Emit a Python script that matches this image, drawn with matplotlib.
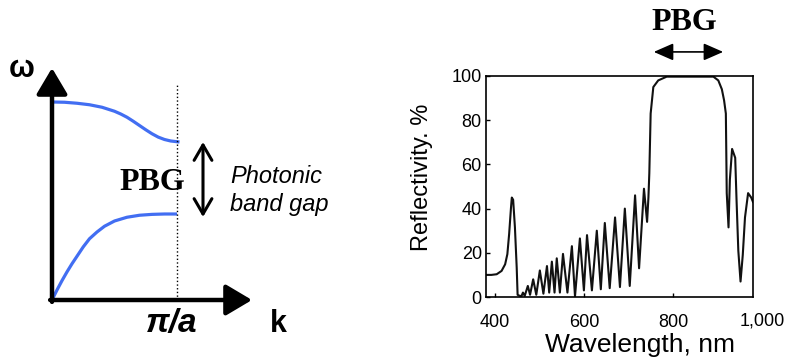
import matplotlib
matplotlib.use('Agg')
import matplotlib.pyplot as plt

plt.rcParams['font.family'] = ['Liberation Sans', 'DejaVu Sans']

# left sketch: dispersion bands, k in units of pi/a
k_upper = [0.0, 0.1, 0.2, 0.3, 0.4, 0.5, 0.55, 0.6, 0.65, 0.7, 0.75, 0.8, 0.85, 0.9, 0.95, 1.02]
w_upper = [1.584, 1.582, 1.574, 1.562, 1.542, 1.51, 1.488, 1.462, 1.43, 1.396, 1.362, 1.33,
           1.303, 1.284, 1.272, 1.264]
k_lower = [0.0, 0.04, 0.08, 0.12, 0.16, 0.2, 0.25, 0.3, 0.36, 0.42, 0.5, 0.6, 0.7, 0.8, 0.9, 1.0]
w_lower = [0.0, 0.08, 0.155, 0.225, 0.29, 0.35, 0.425, 0.49, 0.544, 0.59, 0.632, 0.662, 0.678,
           0.685, 0.688, 0.688]

# right plot: reflectivity spectrum
wavelength = [381, 392, 404, 415, 423, 428, 432, 436, 438, 441, 445, 449, 451, 456, 460,
              463, 467, 474, 479, 486, 493, 501, 509, 517, 522, 528, 534, 539, 546, 553,
              563, 573, 580, 591, 600, 607, 618, 629, 638, 647, 658, 670, 681, 692, 703,
              715, 724, 735, 742, 745, 747, 750, 756, 767, 786, 891, 902, 910, 915, 919,
              921, 925, 928, 933, 940, 943, 947, 952, 957, 962, 969, 976, 980]
reflectivity = [10, 10, 10.3, 11.8, 14.8, 19.4, 28.5, 40, 45, 44, 31.5, 13.3, 1, 0.5, 0.5,
                2, 0.5, 5, 1, 8, 1, 12, 1.5, 14, 2, 16, 2, 17.5, 2, 19.5,
                2, 23, 0.3, 26.5, 3, 28, 3, 30, 3.5, 33.5, 4, 36, 4.5, 40, 5,
                46, 13, 49, 34, 45, 56, 83, 95, 98, 99.7, 99.7, 98, 94, 89, 83,
                47, 31.5, 53, 67, 63, 44, 21, 7, 19, 36, 47, 45, 43]
yticks = [0, 20, 40, 60, 80, 100]
xticks = [400, 600, 800]

fig = plt.figure(figsize=(7.87, 3.63), dpi=100)

# ---- left panel (axis off, units: k and omega)
ax = fig.add_axes([0, 0, 300 / 787, 1])
ax.set_xlim(-0.416, 1.984)
ax.set_ylim(-0.504, 2.4)
ax.set_axis_off()

blue = '#426ef2'
ax.plot(k_upper, w_upper, color=blue, lw=2.3, solid_capstyle='butt')
ax.plot(k_lower, w_lower, color=blue, lw=2.3, solid_capstyle='butt')
ax.plot([1.0, 1.0], [0, 1.72], color='k', lw=1.0, ls=':')

axis_arrow = dict(arrowstyle='-|>,head_length=1.6,head_width=0.95', lw=3.2, color='k',
                  mutation_scale=10, shrinkA=0, shrinkB=0)
ax.annotate('', xy=(0, 1.856), xytext=(0, -0.015), arrowprops=axis_arrow)
ax.annotate('', xy=(1.6, 0), xytext=(-0.015, 0), arrowprops=axis_arrow)
ax.annotate('', xy=(1.208, 1.264), xytext=(1.208, 0.664),
            arrowprops=dict(arrowstyle='<->,head_length=0.55,head_width=0.32', lw=2.2,
                            color='k', mutation_scale=20, shrinkA=0, shrinkB=0))

ax.text(-0.24, 1.85, 'ω', fontsize=22, fontweight='bold', ha='center', va='center')
ax.text(0.8, 0.936, 'PBG', fontsize=23, fontweight='bold', family='Liberation Serif',
        ha='center', va='center')
ax.text(1.424, 0.99, 'Photonic', fontsize=17, style='italic', ha='left', va='center')
ax.text(1.424, 0.76, 'band gap', fontsize=17, style='italic', ha='left', va='center')
ax.text(0.96, -0.19, 'π/a', fontsize=24, fontweight='bold', style='italic',
        ha='center', va='center')
ax.text(1.808, -0.19, 'k', fontsize=22, fontweight='bold', ha='center', va='center')

# ---- right panel
ax2 = fig.add_axes([486 / 787, 66 / 363, 267 / 787, 221 / 363])
ax2.plot(wavelength, reflectivity, color='#111111', lw=1.5)
ax2.set_xlim(380, 980)
ax2.set_ylim(0, 100)
ax2.set_yticks(yticks)
ax2.set_xticks(xticks)
ax2.tick_params(direction='in', length=3, width=1, labelsize=13)
ax2.tick_params(axis='x', pad=12)
ax2.tick_params(axis='y', pad=3)
ax2.text(1000, -7.2, '1,000', fontsize=13, ha='center', va='top', clip_on=False)
for s in ax2.spines.values():
    s.set_linewidth(1.2)

ax2.set_ylabel('Reflectivity. %', fontsize=17)
ax2.yaxis.set_label_coords(-0.2, 0.543)
ax2.set_xlabel('Wavelength, nm', fontsize=19)
ax2.xaxis.set_label_coords(0.577, -0.165)

ax2.annotate('', xy=(757, 110.9), xytext=(913, 110.9), annotation_clip=False,
             arrowprops=dict(arrowstyle='<|-|>,head_length=0.8,head_width=0.35', lw=1.2,
                             color='k', mutation_scale=15, shrinkA=0, shrinkB=0))
ax2.text(825, 124.4, 'PBG', fontsize=23, fontweight='bold', family='Liberation Serif',
         ha='center', va='center', clip_on=False)

fig.savefig('out.png', dpi=100)
